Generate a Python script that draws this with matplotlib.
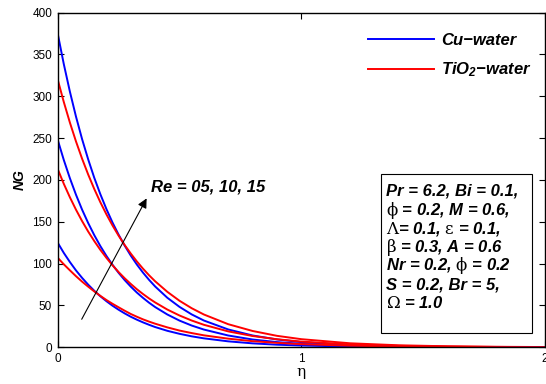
import matplotlib
matplotlib.use('Agg')
import matplotlib.pyplot as plt
from matplotlib.patches import Rectangle

# entropy generation NG against eta, Re = 5, 10, 15 for both nanofluids
eta = [0.0, 0.025, 0.05, 0.075, 0.1, 0.125, 0.15, 0.175, 0.2, 0.225, 0.25,
       0.275, 0.3, 0.325, 0.35, 0.375, 0.4, 0.45, 0.5, 0.55, 0.6, 0.7, 0.8,
       0.9, 1.0, 1.2, 1.4, 1.6, 1.8, 2.0]

cu_re05 = [125, 112.8, 101.9, 91.9, 83.0, 74.9, 67.6, 61.0, 55.1, 49.7, 44.9,
           40.5, 36.5, 33.0, 29.8, 26.9, 24.2, 19.7, 16.1, 13.1, 10.7, 7.1, 4.7,
           3.1, 2.1, 0.9, 0.4, 0.2, 0.1, 0.04]
cu_re10 = [248, 223.9, 202.1, 182.4, 164.6, 148.6, 134.1, 121.0, 109.2, 98.6,
           89.0, 80.3, 72.5, 65.4, 59.1, 53.3, 48.1, 39.2, 31.9, 26.0, 21.2,
           14.1, 9.3, 6.2, 4.1, 1.8, 0.8, 0.35, 0.15, 0.07]
cu_re15 = [375, 338.5, 305.6, 275.8, 248.9, 224.7, 202.7, 183.0, 165.2, 149.1,
           134.6, 121.5, 109.6, 98.9, 89.3, 80.6, 72.7, 59.2, 48.3, 39.3, 32.0,
           21.3, 14.1, 9.4, 6.2, 2.7, 1.2, 0.5, 0.2, 0.1]

ti_re05 = [107, 99.2, 92.0, 85.0, 78.5, 72.5, 66.8, 61.5, 56.5, 52.0, 47.8,
           43.7, 39.8, 36.5, 33.4, 30.7, 28.2, 23.8, 20.0, 17.0, 14.3, 10.3, 7.3,
           5.3, 3.8, 1.9, 0.9, 0.5, 0.2, 0.1]
ti_re10 = [213, 195.4, 179.3, 164.5, 150.9, 138.4, 127.0, 116.5, 106.9, 98.0,
           89.9, 82.5, 75.7, 69.4, 63.7, 58.4, 53.6, 45.1, 38.0, 32.0, 26.9,
           19.0, 13.5, 9.6, 6.8, 3.4, 1.7, 0.85, 0.43, 0.2]
ti_re15 = [320, 293.2, 268.6, 246.1, 225.5, 206.6, 189.3, 173.4, 158.9, 145.6,
           133.4, 122.2, 112.0, 102.6, 94.0, 86.1, 78.9, 66.3, 55.6, 46.7, 39.2,
           27.6, 19.5, 13.7, 9.7, 4.8, 2.4, 1.2, 0.6, 0.3]

params = ['Pr = 6.2, Bi = 0.1,',
          r'$\mathrm{\phi}$ = 0.2, M = 0.6,',
          r'$\Lambda$= 0.1, $\mathrm{\varepsilon}$ = 0.1,',
          r'$\mathrm{\beta}$ = 0.3, A = 0.6',
          r'Nr = 0.2, $\mathrm{\phi}$ = 0.2',
          'S = 0.2, Br = 5,',
          r'$\Omega$ = 1.0']

plt.rcParams['font.family'] = 'Liberation Sans'
plt.rcParams['mathtext.fontset'] = 'custom'
plt.rcParams['mathtext.rm'] = 'DejaVu Serif'
plt.rcParams['mathtext.it'] = 'DejaVu Serif:italic'
plt.rcParams['mathtext.bf'] = 'Liberation Sans:bold'
plt.rcParams['mathtext.bfit'] = 'Liberation Sans:italic:bold'

fig = plt.figure(figsize=(5.46, 3.84), dpi=100)
ax = fig.add_axes([0.1057, 0.0956, 0.8923, 0.8714])

lw = 1.4
ax.plot(eta, cu_re15, color='#0000ff', lw=lw, label='Cu\u2212water')
ax.plot(eta, ti_re15, color='#ff0000', lw=lw,
        label=r'TiO$_{\mathbfit{2}}$' + '\u2212water')
ax.plot(eta, cu_re10, color='#0000ff', lw=lw)
ax.plot(eta, ti_re10, color='#ff0000', lw=lw)
ax.plot(eta, cu_re05, color='#0000ff', lw=lw)
ax.plot(eta, ti_re05, color='#ff0000', lw=lw)

ax.set_xlim(0, 2)
ax.set_ylim(0, 400)
ax.set_xticks([0, 1, 2])
ax.set_yticks(range(0, 401, 50))
ax.tick_params(direction='in', length=4, width=0.8, labelsize=8.5, pad=4,
               top=True, right=True)
for s in ax.spines.values():
    s.set_linewidth(1.0)

ax.set_xlabel(r'$\mathrm{\eta}$', fontsize=11, labelpad=1)
ax.set_ylabel('NG', fontsize=10, fontweight='bold', style='italic', labelpad=4)

leg = ax.legend(loc='upper left', bbox_to_anchor=(367.7 / 546, 1 - 33.0 / 384),
                bbox_transform=fig.transFigure, frameon=False, borderpad=0,
                borderaxespad=0, handlelength=4.0, handletextpad=0.4,
                labelspacing=0.75,
                prop={'size': 12, 'weight': 'bold', 'style': 'italic'})

# Re arrow and label
ax.annotate('', xy=(0.365, 178), xytext=(0.0985, 33.5),
            arrowprops=dict(arrowstyle='-|>', color='black', lw=0.8,
                            mutation_scale=14, shrinkA=0, shrinkB=0))
ax.text(0.385, 192, 'Re = 05, 10, 15', fontsize=12, fontweight='bold',
        style='italic', va='center', ha='left')

# parameter box
fig.patches.append(Rectangle((380.7 / 546, 1 - 333.3 / 384), 151.6 / 546,
                             159.3 / 384, transform=fig.transFigure,
                             facecolor='white', edgecolor='black', lw=0.8,
                             zorder=3))
for i, line in enumerate(params):
    fig.text(386.5 / 546, 1 - (196 + i * 18.6) / 384, line, fontsize=12,
             fontweight='bold', style='italic', va='baseline', ha='left',
             zorder=4)

fig.savefig('out.png', dpi=100)
